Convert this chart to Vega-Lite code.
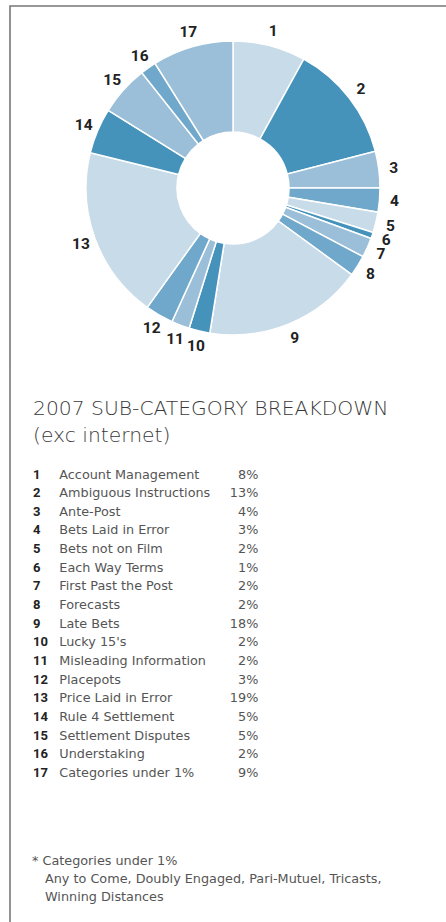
{
  "$schema": "https://vega.github.io/schema/vega-lite/v6.json",
  "padding": {"left": 9, "top": 5, "right": 0, "bottom": 0},
  "spacing": 0,
  "bounds": "flush",
  "background": "white",
  "config": {"font": "Roboto", "view": {"stroke": "#777777", "strokeWidth": 1.6}},
  "datasets": {
    "cats": [
      {"id": 1, "name": "Account Management", "pct": "8%", "share": 8.0},
      {"id": 2, "name": "Ambiguous Instructions", "pct": "13%", "share": 13.0},
      {"id": 3, "name": "Ante-Post", "pct": "4%", "share": 4.0},
      {"id": 4, "name": "Bets Laid in Error", "pct": "3%", "share": 2.65},
      {"id": 5, "name": "Bets not on Film", "pct": "2%", "share": 2.25},
      {"id": 6, "name": "Each Way Terms", "pct": "1%", "share": 0.7},
      {"id": 7, "name": "First Past the Post", "pct": "2%", "share": 2.15},
      {"id": 8, "name": "Forecasts", "pct": "2%", "share": 2.3},
      {"id": 9, "name": "Late Bets", "pct": "18%", "share": 17.5},
      {"id": 10, "name": "Lucky 15's", "pct": "2%", "share": 2.3},
      {"id": 11, "name": "Misleading Information", "pct": "2%", "share": 2.0},
      {"id": 12, "name": "Placepots", "pct": "3%", "share": 3.1},
      {"id": 13, "name": "Price Laid in Error", "pct": "19%", "share": 18.95},
      {"id": 14, "name": "Rule 4 Settlement", "pct": "5%", "share": 5.0},
      {"id": 15, "name": "Settlement Disputes", "pct": "5%", "share": 5.5},
      {"id": 16, "name": "Understaking", "pct": "2%", "share": 1.75},
      {"id": 17, "name": "Categories under 1%", "pct": "9%", "share": 8.9}
    ]
  },
  "vconcat": [
    {
      "width": 446,
      "height": 364,
      "view": {"stroke": "#777777", "strokeWidth": 1.6, "strokeDash": [810, 446, 364]},
      "data": {"name": "cats"},
      "encoding": {
        "theta": {"field": "share", "type": "quantitative", "stack": true},
        "order": {"field": "id", "type": "quantitative"}
      },
      "layer": [
        {
          "mark": {"type": "arc", "radius": 147, "innerRadius": 56, "stroke": "white", "strokeWidth": 1.5},
          "encoding": {
            "color": {
              "field": "id",
              "type": "ordinal",
              "legend": null,
              "scale": {"range": ["#c8dbe9", "#4593bb", "#9bbfd8", "#6fa8ca", "#c8dbe9", "#4593bb", "#9bbfd8", "#6fa8ca", "#c8dbe9", "#4593bb", "#9bbfd8", "#6fa8ca", "#c8dbe9", "#4593bb", "#9bbfd8", "#6fa8ca", "#9bbfd8"]}
            }
          }
        },
        {
          "mark": {"type": "text", "radius": 162, "fontSize": 15.5, "fontWeight": "bold", "fill": "#222222", "align": "center", "baseline": "middle"},
          "encoding": {"text": {"field": "id", "type": "nominal"}}
        }
      ]
    },
    {
      "width": 446,
      "height": 560,
      "view": {"stroke": "#777777", "strokeWidth": 1.6, "strokeDash": [0, 1452, 560]},
      "layer": [
        {
          "data": {"values": [{"line": 1}]},
          "mark": {"type": "text", "text": ["2007 SUB-CATEGORY BREAKDOWN", "(exc internet)"], "font": "DejaVu Sans", "fontSize": 20.3, "fontWeight": 200, "fill": "#3a3a3a", "align": "left", "baseline": "alphabetic", "lineHeight": 26.5},
          "encoding": {
            "x": {"datum": 23, "type": "quantitative", "scale": {"domain": [0, 446], "nice": false, "zero": false}, "axis": null},
            "y": {"datum": -2.405, "type": "quantitative", "scale": {"domain": [-4.818, 25.209], "reverse": true, "nice": false, "zero": false}, "axis": null}
          }
        },
        {
          "data": {"name": "cats"},
          "mark": {"type": "text", "fontSize": 13, "fontWeight": "bold", "fill": "#222222", "align": "left", "baseline": "alphabetic"},
          "encoding": {
            "x": {"datum": 23, "type": "quantitative"},
            "y": {"field": "id", "type": "quantitative"},
            "text": {"field": "id", "type": "nominal"}
          }
        },
        {
          "data": {"name": "cats"},
          "mark": {"type": "text", "font": "DejaVu Sans", "fontSize": 12.8, "fontWeight": "normal", "fill": "#555555", "align": "left", "baseline": "alphabetic"},
          "encoding": {
            "x": {"datum": 49.3, "type": "quantitative"},
            "y": {"field": "id", "type": "quantitative"},
            "text": {"field": "name", "type": "nominal"}
          }
        },
        {
          "data": {"name": "cats"},
          "mark": {"type": "text", "font": "DejaVu Sans", "fontSize": 12.8, "fontWeight": "normal", "fill": "#555555", "align": "right", "baseline": "alphabetic"},
          "encoding": {
            "x": {"datum": 248.3, "type": "quantitative"},
            "y": {"field": "id", "type": "quantitative"},
            "text": {"field": "pct", "type": "nominal"}
          }
        },
        {
          "data": {"values": [{"line": 1}]},
          "mark": {"type": "text", "text": "* Categories under 1%", "font": "DejaVu Sans", "fontSize": 12.8, "fontWeight": "normal", "fill": "#555555", "align": "left", "baseline": "alphabetic"},
          "encoding": {
            "x": {"datum": 22, "type": "quantitative"},
            "y": {"datum": 21.724, "type": "quantitative"}
          }
        },
        {
          "data": {"values": [{"line": 2}]},
          "mark": {"type": "text", "text": ["Any to Come, Doubly Engaged, Pari-Mutuel, Tricasts,", "Winning Distances"], "font": "DejaVu Sans", "fontSize": 12.8, "fontWeight": "normal", "fill": "#555555", "align": "left", "baseline": "alphabetic", "lineHeight": 18},
          "encoding": {
            "x": {"datum": 35, "type": "quantitative"},
            "y": {"datum": 22.689, "type": "quantitative"}
          }
        }
      ]
    }
  ]
}
